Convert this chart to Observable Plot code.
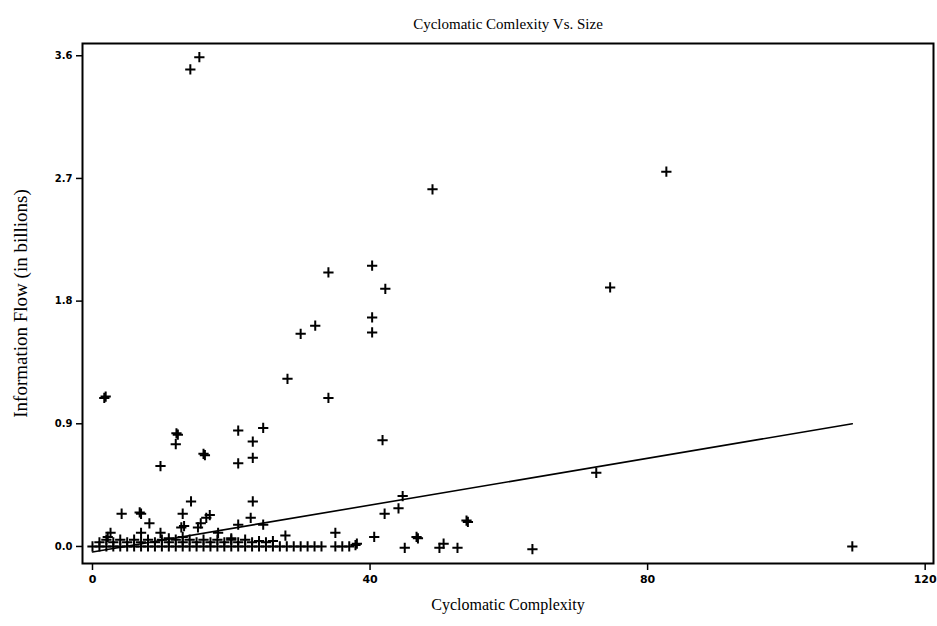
<!DOCTYPE html>
<html><head><meta charset="utf-8">
<script src="https://cdn.jsdelivr.net/npm/d3@7"></script>
<script src="https://cdn.jsdelivr.net/npm/@observablehq/plot@0.6"></script>
<style>
body{margin:0;background:#fff}
#chart{width:937px;height:626px}
</style>
</head><body><div id="chart"></div>
<script>
const title = "Cyclomatic Comlexity Vs. Size";
const xLabel = "Cyclomatic Complexity";
const yLabel = "Information Flow (in billions)";
const xTicks = [0, 40, 80, 120];
const yTicks = [0, 0.9, 1.8, 2.7, 3.6];

// scattered modules (complexity, information flow in billions)
const complexity = [
  14.1, 15.4, 1.7, 1.9, 49.0, 82.7, 34.0, 40.3, 42.2, 74.6,
  40.3, 40.3, 32.1, 30.0, 28.1, 34.0, 12.1, 12.3, 12.0, 16.0,
  16.2, 9.8, 21.0, 24.6, 23.1, 23.1, 21.0, 41.8, 72.6,
  14.2, 23.1, 4.2, 6.8, 7.0, 8.2, 13.0, 13.2, 12.8, 16.4,
  16.9, 15.6, 15.2, 21.0, 22.8, 24.6, 27.8, 35.0, 44.7, 44.1,
  42.1, 40.6, 46.7, 46.9, 53.9, 54.1, 45.0, 50.0, 50.6, 52.6,
  37.9, 38.1, 63.4, 109.5, 2.2, 2.6, 9.8, 7.0, 18.1, 13.0,
  20.0, 11.0
];
const infoFlow = [
  3.50, 3.59, 1.09, 1.10, 2.62, 2.75, 2.01, 2.06, 1.89, 1.90,
  1.68, 1.57, 1.62, 1.56, 1.23, 1.09, 0.83, 0.82, 0.75, 0.68,
  0.67, 0.59, 0.85, 0.87, 0.77, 0.65, 0.61, 0.78, 0.54,
  0.33, 0.33, 0.24, 0.25, 0.24, 0.17, 0.24, 0.15, 0.14, 0.21,
  0.23, 0.17, 0.14, 0.16, 0.21, 0.16, 0.08, 0.10, 0.37, 0.28,
  0.24, 0.07, 0.07, 0.06, 0.19, 0.18, -0.01, -0.01, 0.02, -0.01,
  0.01, 0.02, -0.02, 0.00, 0.07, 0.10, 0.10, 0.10, 0.10, 0.07,
  0.06, 0.06
];
// dense band of modules near zero information flow
const baseComplexity = [0,1,2,3,4,5,6,7,8,9,10,11,12,13,14,15,16,17,18,19,20,21,22,23,24,25,26,27,28,29,30,31,32,33,35,36,37];
const baseFlow =       [0,0,0,0,0,0,0,0,0,0,0,0,0,0,0,0,0,0,0,0,0,0,0,0,0,0,0,0,0,0,0,0,0,0,0,0,0];
const rowComplexity = [1,2,3,4,5,6,7,8,9,10,11,12,13,14,15,16,17,18,19,20,21,22,23,24,25,26];
const rowFlow =       [0.03,0.05,0.03,0.05,0.03,0.05,0.03,0.05,0.03,0.05,0.03,0.05,0.03,0.05,0.03,0.05,0.03,0.05,0.03,0.05,0.03,0.05,0.03,0.04,0.03,0.04];

// fitted regression line
const fitX = [0, 109.5];
const fitY = [-0.04, 0.90];

const points = [
  ...complexity.map((x, i) => ({x, y: infoFlow[i]})),
  ...baseComplexity.map((x, i) => ({x, y: baseFlow[i]})),
  ...rowComplexity.map((x, i) => ({x, y: rowFlow[i]}))
];
const fit = fitX.map((x, i) => ({x, y: fitY[i]}));

const serif = "'Liberation Serif', 'DejaVu Serif', serif";
const tickFont = "'DejaVu Sans', 'Liberation Sans', sans-serif";

const chart = Plot.plot({
  width: 937,
  height: 626,
  marginLeft: 82,
  marginRight: 4,
  marginTop: 43,
  marginBottom: 63,
  style: {background: "#fff", color: "#000"},
  x: {domain: [-1.44, 121.2]},
  y: {domain: [-0.125, 3.69]},
  marks: [
    Plot.frame({stroke: "#000", strokeWidth: 2}),
    Plot.axisX({ticks: xTicks, tickFormat: d3.format("d"), tickSize: 7, tickPadding: 5,
      fontSize: 11, fontWeight: "bold", fontFamily: tickFont, label: null, strokeWidth: 1.5}),
    Plot.axisY({ticks: yTicks, tickFormat: d3.format(".1f"), tickSize: 6, tickPadding: 4,
      fontSize: 10, fontWeight: "bold", fontFamily: tickFont, label: null, strokeWidth: 1.5}),
    Plot.line(fit, {x: "x", y: "y", stroke: "#000", strokeWidth: 1.6}),
    Plot.dot(points, {x: "x", y: "y", symbol: "plus", r: 3.4, stroke: "#000", strokeWidth: 2}),
    Plot.text([title], {frameAnchor: "top", dy: -25, fontFamily: serif, fontSize: 15, fill: "#000"}),
    Plot.text([xLabel], {frameAnchor: "bottom", dy: 46, fontFamily: serif, fontSize: 16, fill: "#000"}),
    Plot.text([yLabel], {frameAnchor: "left", textAnchor: "middle", dx: -62, rotate: -90,
      fontFamily: serif, fontSize: 19, fill: "#000"})
  ]
});
document.getElementById("chart").appendChild(chart);
</script>
</body></html>
